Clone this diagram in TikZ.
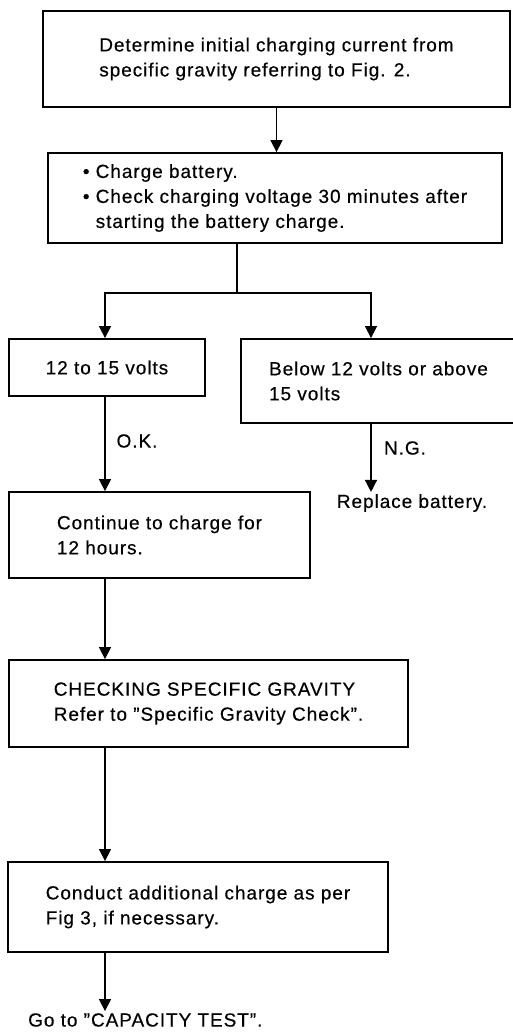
\documentclass[tikz,border=0pt]{standalone}
\usepackage{fontspec}
\setmainfont{Liberation Sans}[LetterSpace=5, FakeBold=0.4]
\usepackage{tikz}
\usetikzlibrary{arrows.meta, positioning}

\tikzset{
  stepbox/.style={draw, line width=1.8pt, align=left, inner sep=0pt,
    font=\fontsize{19}{25}\selectfont},
  tag/.style={inner sep=2pt, font=\fontsize{19}{25}\selectfont},
  flow/.style={line width=1.4pt, -{Triangle[length=12pt, width=12pt]}},
  link/.style={line width=1.4pt},
}

\begin{document}
\begin{tikzpicture}[x=1pt, y=-1pt]
  \useasboundingbox (0,0) rectangle (512,1033);
  % columns of the arrows
  \coordinate (lcol) at (105,0);
  \coordinate (rcol) at (371,0);
  \coordinate (split) at (237,293);
  % first steps
  \node[stepbox, minimum width=467pt, minimum height=96pt] (initial) at (276.5,59)
    {Determine initial charging current from\\specific gravity referring to Fig. 2.};
  \node[stepbox, minimum width=454pt, minimum height=90pt] (charge) at (275,198)
    {\textbullet~Charge battery.\\
     \textbullet~Check charging voltage 30 minutes after\\
     \phantom{\textbullet~}starting the battery charge.};
  % voltage check
  \node[stepbox, minimum width=196pt, minimum height=57pt] (good) at (107,367.5)
    {12 to 15 volts};
  \node[stepbox, minimum width=275pt, minimum height=84pt] (bad) at (378.5,381)
    {Below 12 volts or above\\15 volts};
  \node[tag] (ok) at (137,441) {O.K.};
  \node[tag] (ng) at (405,448) {N.G.};
  \node[tag] (replace) at (412,503) {Replace battery.};
  % remaining steps
  \node[stepbox, minimum width=301pt, minimum height=86pt] (hours) at (159.5,535)
    {Continue to charge for\\12 hours.};
  \node[stepbox, minimum width=399pt, minimum height=87pt] (gravity) at (208.5,703.5)
    {CHECKING SPECIFIC GRAVITY\\Refer to ''Specific Gravity Check''.};
  \node[stepbox, minimum width=380pt, minimum height=90pt] (extra) at (198,907)
    {Conduct additional charge as per\\Fig 3, if necessary.};
  \node[tag, anchor=west] (capacity) at (26,1020) {Go to ''CAPACITY TEST''.};
  % arrows
  \draw[flow] (initial.south) -- (initial.south |- charge.north);
  \draw[link] (charge.south -| split) -- (split);
  \draw[flow] (split) -| (good.north -| lcol);
  \draw[flow] (split) -| (bad.north -| rcol);
  \draw[flow] (good.south -| lcol) -- (hours.north -| lcol);
  \draw[flow] (bad.south -| rcol) -- (replace.north -| rcol);
  \draw[flow] (hours.south -| lcol) -- (gravity.north -| lcol);
  \draw[flow] (gravity.south -| lcol) -- (extra.north -| lcol);
  \draw[flow] (extra.south -| lcol) -- (capacity.north -| lcol);
\end{tikzpicture}
\end{document}
